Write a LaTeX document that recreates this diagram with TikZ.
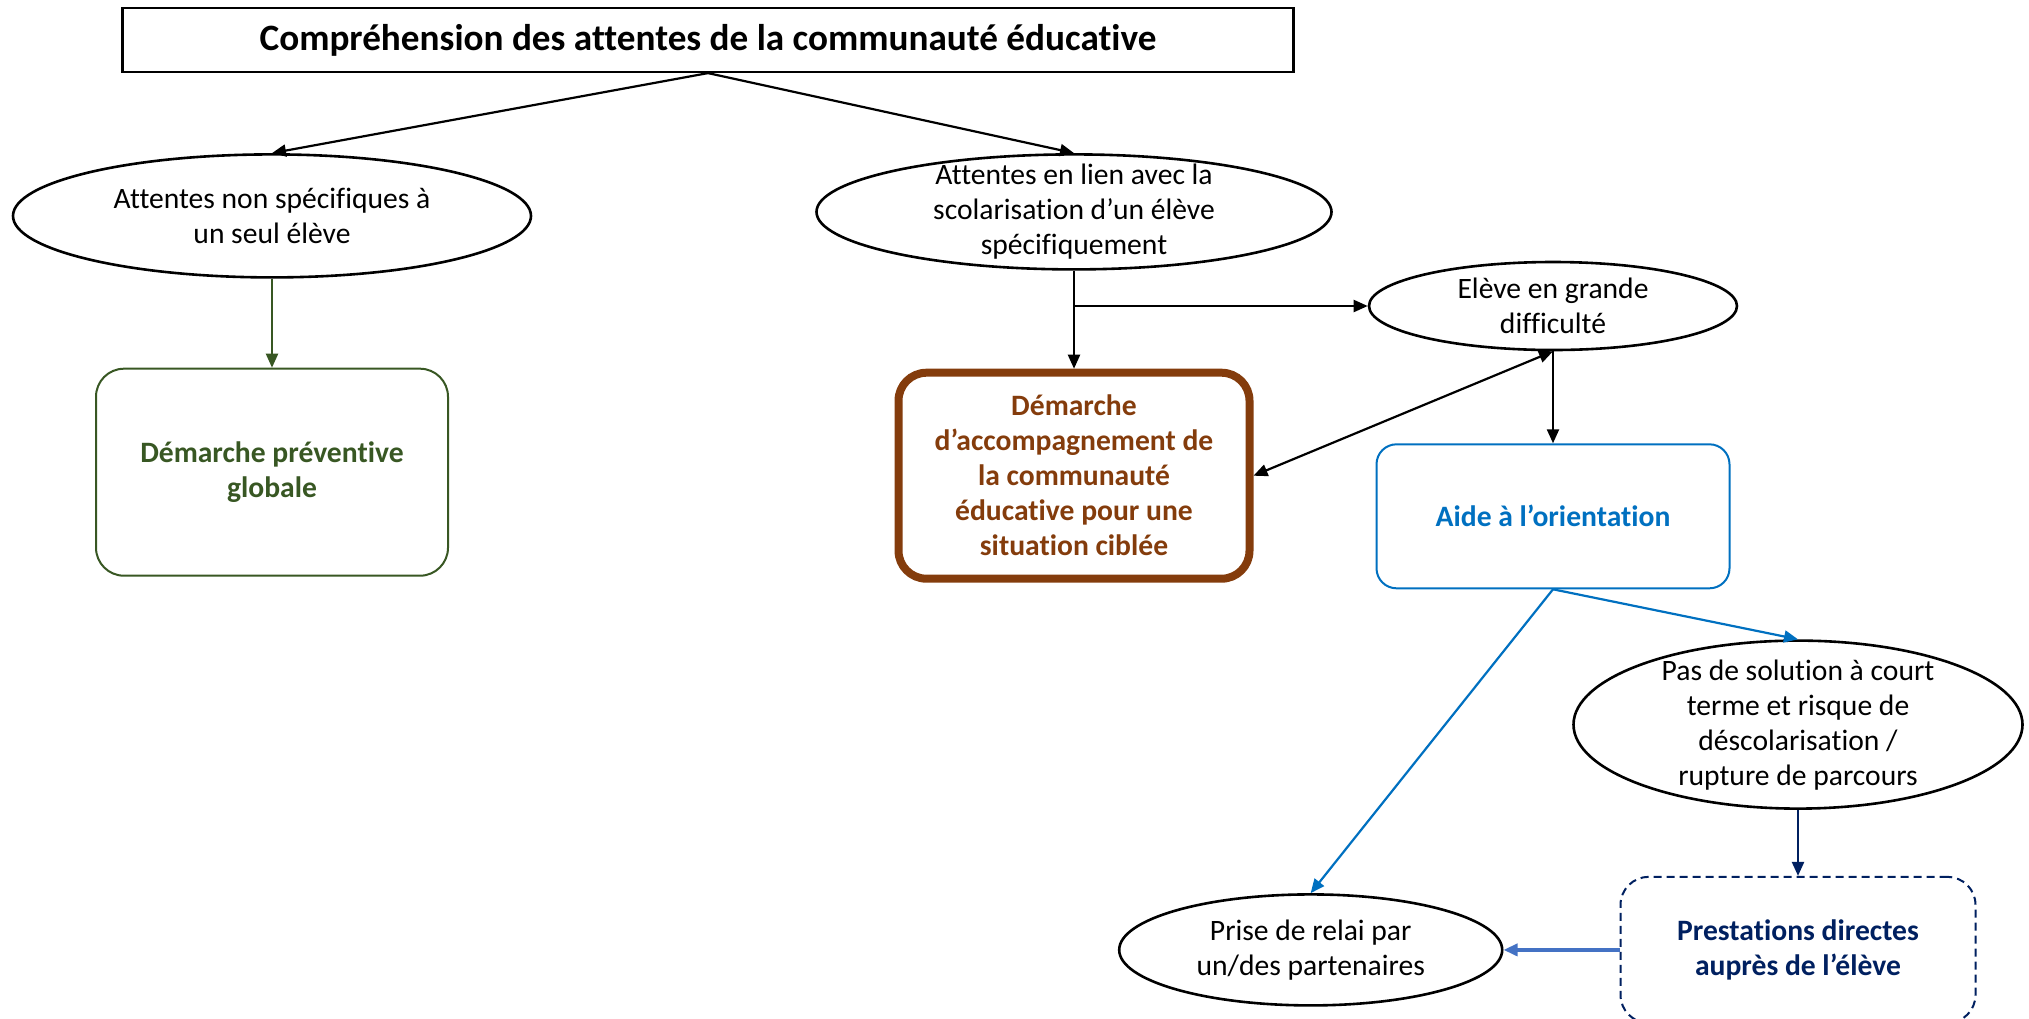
\documentclass[tikz,border=0pt]{standalone}
\usepackage{fontspec}
\setmainfont{Carlito}[Ligatures=NoCommon]
\usepackage{xcolor}
\usepackage{tikz}
\usetikzlibrary{positioning,arrows.meta,shapes.geometric}

\definecolor{vert}{HTML}{385723}
\definecolor{brun}{HTML}{843C0C}
\definecolor{bleu}{HTML}{0070C0}
\definecolor{marine}{HTML}{002060}
\definecolor{bleuclair}{HTML}{4472C4}

\tikzset{
  bulle/.style={ellipse,draw,line width=1.3pt,inner sep=0pt},
  cadre/.style={rectangle,rounded corners=14pt,draw,line width=1pt,align=center,
    font=\fontsize{14.8}{17.5}\selectfont\bfseries},
}

\begin{document}
\begin{tikzpicture}[x=.5pt,y=-.5pt,font=\fontsize{14.8}{17.5}\selectfont,
    >={Triangle[length=7pt,width=6pt]},line width=1.1pt]
    \useasboundingbox (0,0) rectangle (2029,1018);
    \node[draw,minimum width=585.5pt,minimum height=32pt,font=\fontsize{18.6}{22}\selectfont\bfseries] (titre) at (708,40) {Compréhension des attentes de la communauté éducative};
    \node[bulle,minimum width=259pt,minimum height=61.5pt,below=40pt of titre,xshift=-218pt,
      label={[align=center]center:Attentes non spécifiques à\\un seul élève}] (nonspec) {};
    \node[cadre,draw=vert,text=vert,minimum width=176pt,minimum height=103.5pt,below=44.5pt of nonspec] (prev) {Démarche préventive\\globale};
    \node[bulle,minimum width=257.5pt,minimum height=57.5pt,below=40pt of titre,xshift=183pt,
      label={[align=center]center:Attentes en lien avec la\\scolarisation d’un élève\\spécifiquement}] (lien) {};
    \node[cadre,draw=brun,text=brun,line width=4pt,minimum width=175.5pt,minimum height=103pt,below=49pt of lien] (accomp) {Démarche\\d’accompagnement de\\la communauté\\éducative pour une\\situation ciblée};
    \node[bulle,minimum width=184pt,minimum height=44pt,below=-5pt of lien,xshift=239.5pt,
      label={[align=center]center:Elève en grande\\difficulté}] (diff) {};
    \node[cadre,rounded corners=10pt,draw=bleu,text=bleu,minimum width=176.5pt,minimum height=72pt,below=46pt of diff] (orient) {Aide à l’orientation};
    \node[bulle,minimum width=224.5pt,minimum height=84pt,below=25pt of orient,xshift=122.5pt,
      label={[align=center]center:Pas de solution à court\\terme et risque de\\déscolarisation /\\rupture de parcours}] (rupt) {};
    \node[cadre,dashed,dash pattern=on 4pt off 2.5pt,draw=marine,text=marine,minimum width=177.5pt,minimum height=73pt,below=33pt of rupt] (prest) {Prestations directes\\auprès de l’élève};
    \node[bulle,minimum width=191.5pt,minimum height=55.5pt,left=58pt of prest,
      label={[align=center]center:Prise de relai par\\un/des partenaires}] (relai) {};

    \draw[->] (titre.south) -- (nonspec.north);
    \draw[->] (titre.south) -- (lien.north);
    \draw[->,vert] (nonspec) -- (prev);
    \draw[->] (lien) -- (accomp);
    \coordinate (embr) at (lien.south |- diff.west);
    \draw[->] (embr) -- (diff.west);
    \draw[<->] (accomp.east) -- (diff.south);
    \draw[->] (diff.south) -- (orient.north);
    \draw[->,bleu] (orient.south) -- (rupt.north);
    \draw[->,bleu] (orient.south) -- (relai.north);
    \draw[->,marine] (rupt) -- (prest);
    \draw[->,bleuclair,line width=1.8pt] (prest.west) -- (relai.east);
\end{tikzpicture}
\end{document}
